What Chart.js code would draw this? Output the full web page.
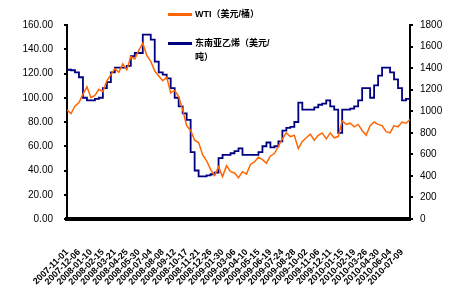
<!DOCTYPE html>
<html>
<head>
<meta charset="utf-8">
<script src="https://cdn.jsdelivr.net/npm/chart.js@4.4.0/dist/chart.umd.min.js"></script>
<style>
  html, body { margin: 0; padding: 0; background: #fff; }
  #wrap { position: relative; width: 450px; height: 300px; }
  .leg { position: absolute; font: bold 9px "Liberation Sans", "Noto Sans CJK SC", sans-serif; color: #000; line-height: 14px; }
  .leg i { position: absolute; height: 3px; }
</style>
</head>
<body>
<div id="wrap">
  <canvas id="chart" width="450" height="300"></canvas>
  <div class="leg" style="left:168px; top:7px;"><i style="left:0; top:6px; width:24px; background:#FF6600;"></i><span style="margin-left:27px;">WTI（美元/桶）</span></div>
  <div class="leg" style="left:168px; top:36px; width:125px;"><i style="left:0; top:6px; width:24px; background:#000080;"></i><div style="margin-left:27px;">东南亚乙烯（美元/<br>吨）</div></div>
</div>
<script>
(function () {
  var orange = '#FF6600';
  var navy = '#000080';

  // one label every 3 points
  var tickLabels = ['2007-11-01', '2007-12-06', '2008-01-10', '2008-02-15', '2008-03-21', '2008-04-25',
    '2008-05-30', '2008-07-04', '2008-08-08', '2008-09-12', '2008-10-17', '2008-11-21', '2008-12-26',
    '2009-01-30', '2009-03-06', '2009-04-10', '2009-05-15', '2009-06-19', '2009-07-24', '2009-08-28',
    '2009-10-02', '2009-11-06', '2009-12-11', '2010-01-15', '2010-02-19', '2010-03-26', '2010-04-30',
    '2010-06-04', '2010-07-09'];

  // WTI, USD/bbl (left axis)
  var wti = [90, 87, 93, 96, 103, 109, 100, 102, 107, 105, 114, 119, 124, 121, 128, 123, 134, 132, 139, 145,
    135, 130, 122, 118, 114, 117, 104, 106, 101, 90, 77, 73, 65, 63, 53, 48, 41, 36, 43, 35,
    44, 39, 38, 34, 39, 37, 45, 47, 51, 49, 46, 52, 54, 60, 66, 71, 68, 69, 58, 64,
    67, 70, 65, 69, 71, 66, 71, 67, 68, 81, 78, 79, 76, 78, 73, 69, 77, 80, 78, 77,
    72, 71, 77, 76, 80, 79, 82];

  // SE Asia ethylene, USD/t (right axis)
  var ethylene = [1385, 1380, 1360, 1315, 1125, 1100, 1100, 1115, 1125, 1215, 1270, 1360, 1405, 1405, 1405, 1420,
    1510, 1540, 1540, 1710, 1710, 1665, 1460, 1360, 1340, 1305, 1215, 1125, 1045, 980, 920, 620,
    450, 395, 395, 405, 415, 430, 565, 595, 595, 610, 630, 655, 595, 595, 595, 595,
    620, 675, 710, 665, 675, 720, 820, 845, 855, 900, 1080, 1015, 1015, 1015, 1035, 1060,
    1070, 1100, 1045, 1015, 800, 1015, 1015, 1025, 1045, 1100, 1215, 1215, 1125, 1240, 1330, 1405,
    1405, 1360, 1295, 1215, 1100, 1115, 1135];

  function points(arr) {
    return arr.map(function (v, i) { return { x: i, y: v }; });
  }

  var tickFont = { family: 'Liberation Sans', size: 10 };

  new Chart(document.getElementById('chart'), {
    type: 'line',
    data: {
      datasets: [{
        label: 'WTI（美元/桶）',
        data: points(wti),
        yAxisID: 'y',
        borderColor: orange,
        borderWidth: 1.5,
        pointRadius: 0,
        tension: 0
      }, {
        label: '东南亚乙烯（美元/吨）',
        data: points(ethylene),
        yAxisID: 'y1',
        borderColor: navy,
        borderWidth: 1.8,
        pointRadius: 0,
        stepped: true
      }]
    },
    options: {
      responsive: false,
      animation: false,
      layout: { padding: { top: 25, left: 0, right: 0, bottom: 0 } },
      plugins: { legend: { display: false }, tooltip: { enabled: false } },
      scales: {
        x: {
          type: 'linear',
          min: 0,
          max: wti.length - 1,
          border: { color: '#000', width: 4 },
          grid: { display: false },
          ticks: {
            stepSize: 3,
            includeBounds: false,
            autoSkip: false,
            minRotation: 45,
            maxRotation: 45,
            padding: 20,
            color: '#000',
            font: { family: 'Liberation Sans', size: 9, weight: 'bold' },
            callback: function (v) { return v % 3 === 0 ? tickLabels[v / 3] : ''; }
          },
          afterFit: function (s) { s.height = 81; }
        },
        y: {
          position: 'left',
          min: 0,
          max: 160,
          border: { color: '#000', width: 2 },
          grid: { drawOnChartArea: false, color: '#000', tickLength: 3, lineWidth: 2 },
          ticks: {
            stepSize: 20,
            color: '#000',
            padding: 11,
            font: tickFont,
            callback: function (v) { return v.toFixed(2); }
          },
          afterFit: function (s) { s.width = 67; }
        },
        y1: {
          position: 'right',
          min: 0,
          max: 1800,
          border: { color: '#000', width: 2 },
          grid: { drawOnChartArea: false, color: '#000', tickLength: 3, lineWidth: 2 },
          ticks: {
            stepSize: 200,
            color: '#000',
            padding: 7,
            font: tickFont,
            callback: function (v) { return String(v); }
          },
          afterFit: function (s) { s.width = 40; }
        }
      }
    }
  });
})();
</script>
</body>
</html>
